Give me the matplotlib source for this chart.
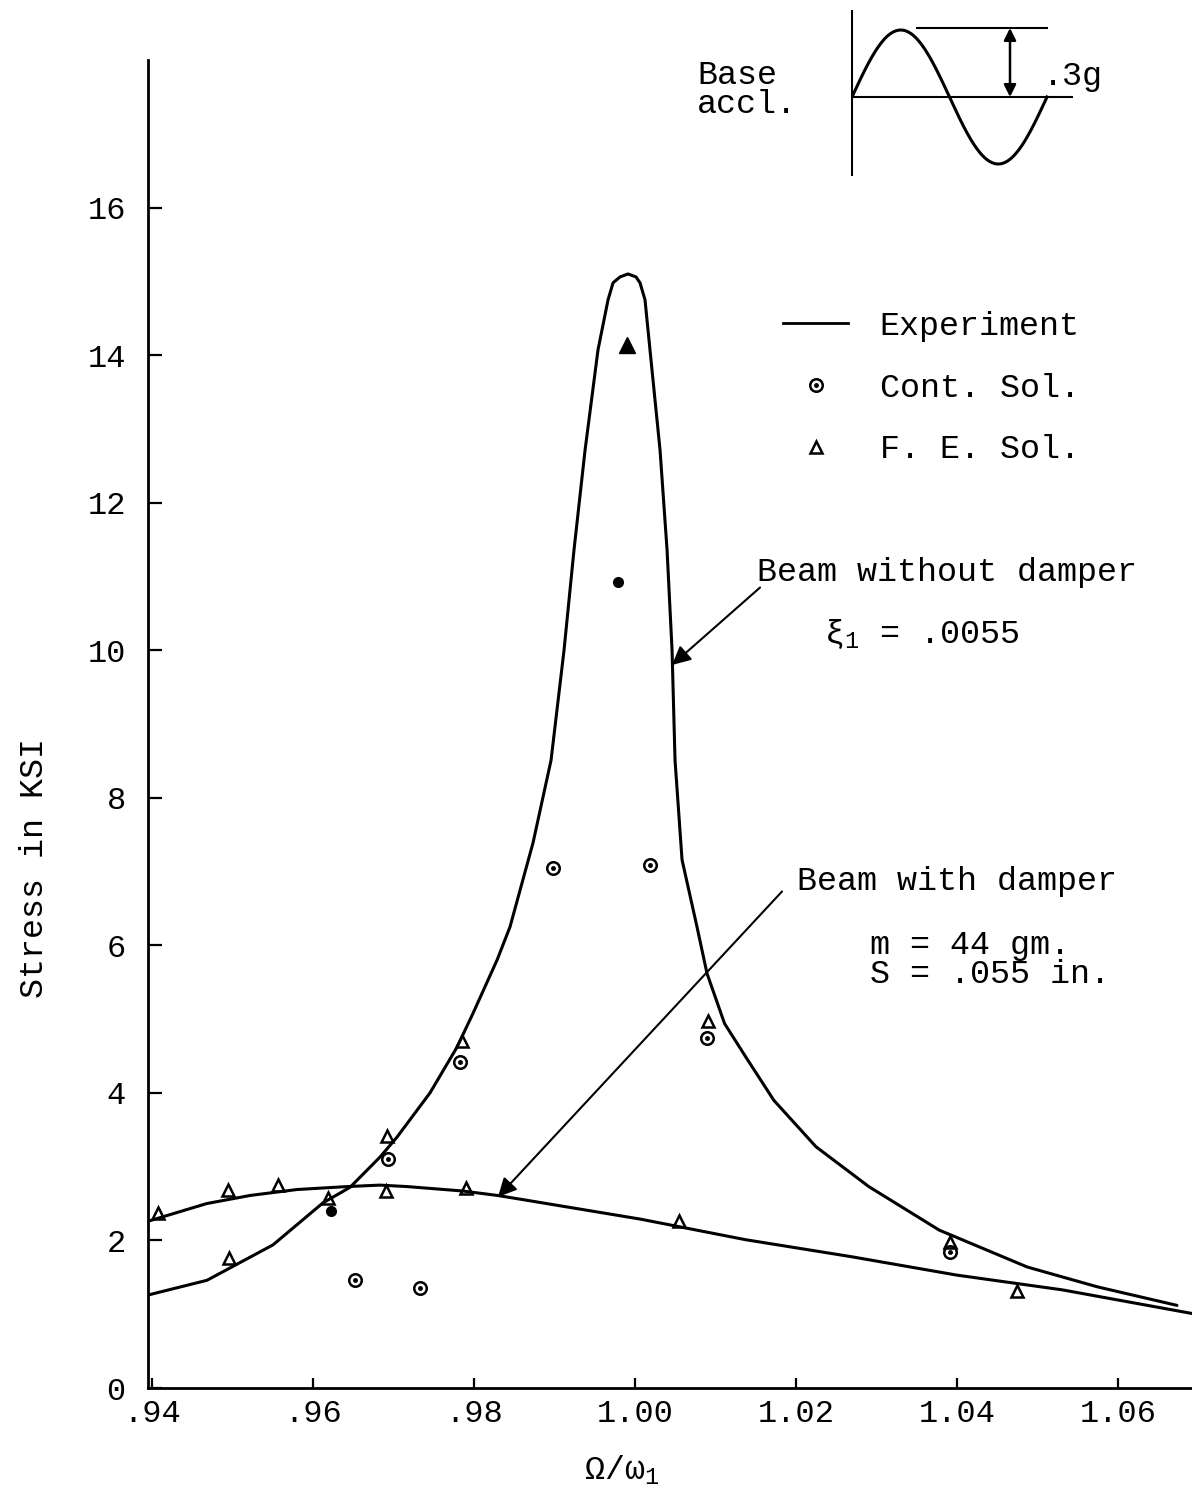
import matplotlib
matplotlib.use('Agg')
import matplotlib.pyplot as plt
import numpy as np
from matplotlib.lines import Line2D
from matplotlib.legend_handler import HandlerTuple

plt.rcParams['font.family'] = ['Liberation Mono', 'DejaVu Sans']
plt.rcParams['mathtext.fontset'] = 'custom'
plt.rcParams['mathtext.rm'] = 'Liberation Mono'
plt.rcParams['mathtext.it'] = 'Liberation Mono'

# ---------------- data ----------------
freq_no_damper = [0.93950, 0.94683, 0.95503, 0.96124, 0.96460, 0.96832, 0.97043, 0.97453,
                  0.97789, 0.97988, 0.98286, 0.98447, 0.98733, 0.98957, 0.99118, 0.99242,
                  0.99379, 0.99540, 0.99665, 0.99727, 0.99814, 0.99913, 1.00012, 1.00062,
                  1.00124, 1.00186, 1.00311, 1.00398, 1.00460, 1.00497, 1.00584, 1.00770,
                  1.00894, 1.01112, 1.01374, 1.01724, 1.02248, 1.02904, 1.03779, 1.04872,
                  1.05748, 1.06732]
stress_no_damper = [1.26, 1.46, 1.94, 2.51, 2.72, 3.13, 3.40, 4.00,
                    4.62, 5.08, 5.80, 6.25, 7.39, 8.51, 10.00, 11.36,
                    12.71, 14.07, 14.75, 14.98, 15.06, 15.10, 15.06, 14.98,
                    14.75, 14.07, 12.71, 11.36, 10.00, 8.51, 7.16, 6.25,
                    5.62, 4.94, 4.49, 3.90, 3.27, 2.73, 2.14, 1.64,
                    1.37, 1.12]

freq_damper = [0.9395, 0.9468, 0.9522, 0.9580, 0.9642, 0.9683, 0.9717, 0.9786,
               0.9829, 0.9857, 1.00062, 1.01374, 1.02686, 1.03998, 1.05309, 1.06919]
stress_damper = [2.26, 2.50, 2.61, 2.69, 2.73, 2.75, 2.73, 2.67,
                 2.61, 2.56, 2.29, 2.01, 1.78, 1.53, 1.33, 1.01]

cont_freq = [0.9652, 0.9733, 0.9693, 0.9783, 0.9898, 1.0019, 1.00899, 1.03910]
cont_stress = [1.46, 1.35, 3.11, 4.42, 7.05, 7.09, 4.74, 1.85]
cont_filled_freq = [0.9622, 0.9979]
cont_filled_stress = [2.40, 10.93]

fe_freq = [0.9496, 0.9619, 0.9692, 0.9785, 1.00908, 1.03910,
           0.9407, 0.9494, 0.9557, 0.9691, 0.9790, 1.00551, 1.04741]
fe_stress = [1.76, 2.57, 3.41, 4.71, 4.97, 1.98,
             2.37, 2.68, 2.75, 2.67, 2.71, 2.27, 1.32]
fe_filled_freq = [0.9990]
fe_filled_stress = [14.14]

x_ticks = [0.94, 0.96, 0.98, 1.00, 1.02, 1.04, 1.06]
x_tick_labels = ['.94', '.96', '.98', '1.00', '1.02', '1.04', '1.06']
y_ticks = [0, 2, 4, 6, 8, 10, 12, 14, 16]
y_tick_labels = ['0', '2', '4', '6', '8', '10', '12', '14', '16']

# ---------------- figure ----------------
W, H = 1192, 1502
fig = plt.figure(figsize=(W / 100, H / 100), dpi=100)

left_px, right_px, top_px, bottom_px = 148, 1192, 60, 1388
ax = fig.add_axes([left_px / W, 1 - bottom_px / H,
                   (right_px - left_px) / W, (bottom_px - top_px) / H])
ax.set_xlim(0.9395, 1.06919)
ax.set_ylim(0, 18)

for s in ['top', 'right']:
    ax.spines[s].set_visible(False)
for s in ['left', 'bottom']:
    ax.spines[s].set_linewidth(2.0)

FS = 23
ax.set_xticks(x_ticks)
ax.set_xticklabels(x_tick_labels, fontsize=FS)
ax.set_yticks(y_ticks)
ax.set_yticklabels(y_tick_labels, fontsize=FS)
ax.tick_params(axis='x', direction='in', length=7, width=1.6, pad=8)
ax.tick_params(axis='y', direction='in', length=10, width=1.6, pad=16)

lw = 2.2
ax.plot(freq_no_damper, stress_no_damper, color='black', lw=lw,
        solid_joinstyle='round', solid_capstyle='round')
ax.plot(freq_damper, stress_damper, color='black', lw=lw,
        solid_joinstyle='round', solid_capstyle='round')

# continuous solution markers (circle with centre dot)
ax.plot(cont_freq, cont_stress, ls='none', marker='o', ms=9, mfc='none',
        mec='black', mew=1.8)
ax.plot(cont_freq, cont_stress, ls='none', marker='o', ms=2.5, color='black')
ax.plot(cont_filled_freq, cont_filled_stress, ls='none', marker='o', ms=7, color='black')

# finite element markers
ax.plot(fe_freq, fe_stress, ls='none', marker='^', ms=9, mfc='none',
        mec='black', mew=1.8)
ax.plot(fe_filled_freq, fe_filled_stress, ls='none', marker='^', ms=12, color='black')

# legend
h_line = Line2D([], [], color='black', lw=2.0)
h_circ = Line2D([], [], ls='none', marker='o', ms=9, mfc='none', mec='black', mew=1.8)
h_dot = Line2D([], [], ls='none', marker='o', ms=2.5, color='black')
h_tri = Line2D([], [], ls='none', marker='^', ms=9, mfc='none', mec='black', mew=1.8)
leg = ax.legend([h_line, (h_circ, h_dot), h_tri],
                ['Experiment', 'Cont. Sol.', 'F. E. Sol.'],
                handler_map={tuple: HandlerTuple(ndivide=1)},
                loc='upper left', bbox_to_anchor=((783 - left_px) / (right_px - left_px),
                                                  (bottom_px - 311) / (bottom_px - top_px)),
                frameon=False, fontsize=FS + 1, handlelength=1.95, handletextpad=0.95,
                labelspacing=0.92, borderpad=0, borderaxespad=0)

# annotations
arrow_kw = dict(arrowstyle='-|>', color='black', lw=1.5, mutation_scale=28,
                shrinkA=0, shrinkB=0)
ax.annotate('', xy=(1.00460, 9.80), xytext=(1.01553, 10.85), arrowprops=arrow_kw)
ax.annotate('', xy=(0.98298, 2.59), xytext=(1.01826, 6.73), arrowprops=arrow_kw)

ax.text(1.01516, 11.06, 'Beam without damper', fontsize=FS + 1, ha='left', va='center')
ax.text(1.02348, 10.22, r'$\mathrm{ξ_1}$ = .0055', fontsize=FS + 1, ha='left', va='center')
ax.text(1.02012, 6.86, 'Beam with damper', fontsize=FS + 1, ha='left', va='center')
ax.text(1.02919, 6.00, 'm = 44 gm.', fontsize=FS + 1, ha='left', va='center')
ax.text(1.02919, 5.60, 'S = .055 in.', fontsize=FS + 1, ha='left', va='center')

# axis labels
fig.text(35 / W, 1 - 868 / H, 'Stress in KSI', rotation=90, fontsize=FS + 1,
         ha='center', va='center')
fig.text(622 / W, 1 - 1470 / H, r'$\mathrm{Ω/ω_1}$', fontsize=FS + 1,
         ha='center', va='center')

# inset: base acceleration sketch
ins_l, ins_r, ins_t, ins_b = 851, 1073, 10, 176
iax = fig.add_axes([ins_l / W, 1 - ins_b / H, (ins_r - ins_l) / W, (ins_b - ins_t) / H])
iax.set_axis_off()
period_px = 195.0
amp_px = 67.0
iax.set_xlim((ins_l - 852) / period_px * 2 * np.pi, (ins_r - 852) / period_px * 2 * np.pi)
iax.set_ylim((97 - ins_b) / amp_px, (97 - ins_t) / amp_px)
t = np.linspace(0, 2 * np.pi, 300)
iax.plot(t, np.sin(t), color='black', lw=2.2)
iax.axvline(0, color='black', lw=1.5)
iax.axhline(0, color='black', lw=1.5)
top_line_start = (917 - 852) / period_px * 2 * np.pi
iax.plot([top_line_start, 2 * np.pi], [1.03, 1.03], color='black', lw=1.5)
arr_x = (1010 - 852) / period_px * 2 * np.pi
iax.annotate('', xy=(arr_x, 1.03), xytext=(arr_x, 0.0),
             arrowprops=dict(arrowstyle='<|-|>', color='black', lw=1.8,
                             mutation_scale=18, shrinkA=0, shrinkB=0))

fig.text(697 / W, 1 - 90 / H, 'Base\naccl.', fontsize=FS + 1, ha='left', va='center',
         linespacing=0.9)
fig.text(1043 / W, 1 - 77 / H, '.3g', fontsize=FS + 1, ha='left', va='center')

fig.savefig('out.png', dpi=100)
